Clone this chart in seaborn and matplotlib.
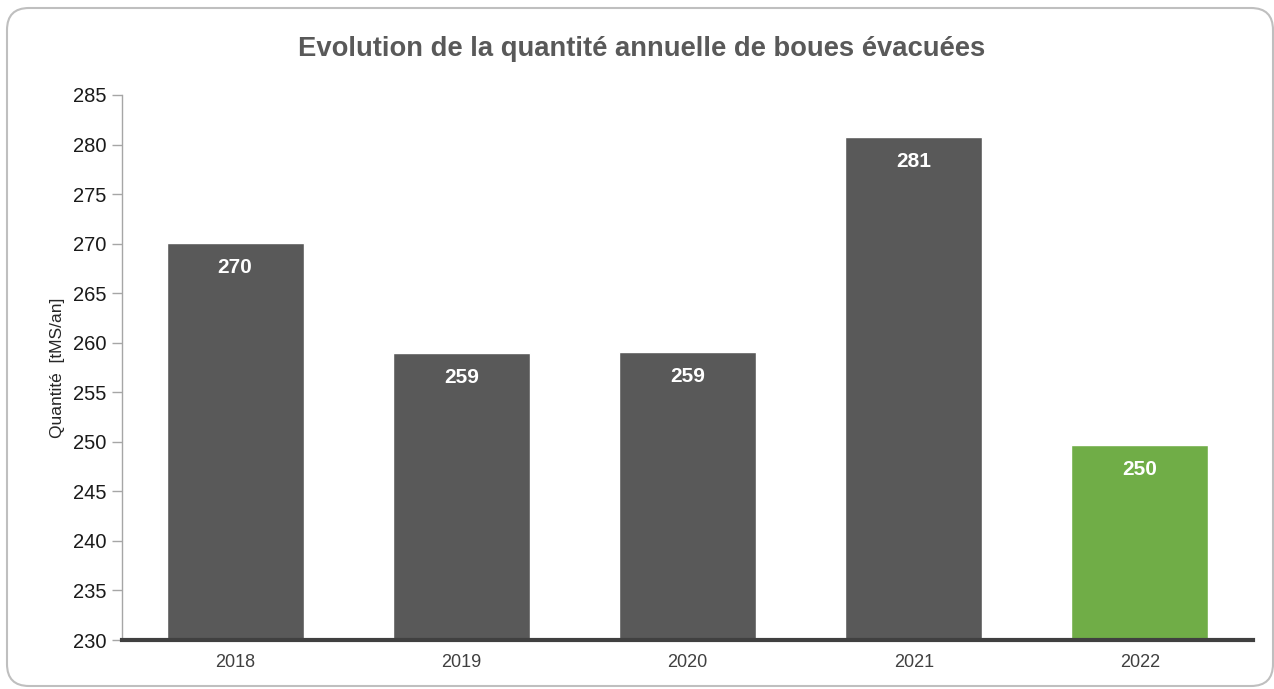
import matplotlib
matplotlib.use("Agg")
import matplotlib.pyplot as plt
import seaborn as sns
import pandas as pd
from matplotlib.patches import FancyBboxPatch
from matplotlib.transforms import IdentityTransform

# Data
years = ["2018", "2019", "2020", "2021", "2022"]
quantities = [270.1, 259.0, 259.1, 280.8, 249.7]
labels = ["270", "259", "259", "281", "250"]
bar_colors = ["#595959", "#595959", "#595959", "#595959", "#70AD47"]

df = pd.DataFrame({"Year": years, "Quantity": quantities})

sns.set_theme(style="white")
plt.rcParams["font.family"] = ["Liberation Sans", "DejaVu Sans"]

W, H = 1274, 689
fig = plt.figure(figsize=(W / 100, H / 100), dpi=100)
ax = fig.add_axes([122 / W, 1 - 640 / H, (1253 - 122) / W, (640 - 95) / H])

sns.barplot(data=df, x="Year", y="Quantity", hue="Year", palette=bar_colors,
            legend=False, width=0.606, saturation=1, ax=ax)

ax.set_ylim(230, 285)
ax.set_xlim(-0.5, 4.5)
ax.set_yticks(range(230, 286, 5))
ax.tick_params(axis="y", direction="out", length=7, width=1, color="#a6a6a6",
               labelsize=14.5, labelcolor="#1a1a1a", pad=4, left=True)
ax.tick_params(axis="x", length=0, labelsize=13, labelcolor="#404040", pad=10)

for side in ["top", "right"]:
    ax.spines[side].set_visible(False)
ax.spines["left"].set_color("#a6a6a6")
ax.spines["left"].set_linewidth(1)
ax.spines["bottom"].set_color("#404040")
ax.spines["bottom"].set_linewidth(3)

ax.set_xlabel("")
ax.set_ylabel("Quantité  [tMS/an]", fontsize=12.5, color="#262626", labelpad=6)

# Value labels inside the bars
for i, (v, t) in enumerate(zip(quantities, labels)):
    ax.annotate(t, (i, v), xytext=(0, -18), textcoords="offset points",
                ha="center", va="center", color="white", fontsize=15,
                fontweight="bold")

fig.text(642 / W, 1 - 49 / H, "Evolution de la quantité annuelle de boues évacuées",
         ha="center", va="center", fontsize=19.7, fontweight="bold", color="#595959")

# Rounded chart frame (pixel coordinates)
frame = FancyBboxPatch((7, 3), 1273 - 7, 681 - 3,
                       boxstyle="round,pad=0,rounding_size=22",
                       transform=IdentityTransform(), facecolor="none",
                       edgecolor="#bfbfbf", linewidth=1.5, zorder=-1)
fig.patches.append(frame)

fig.savefig("out.png", dpi=100)
